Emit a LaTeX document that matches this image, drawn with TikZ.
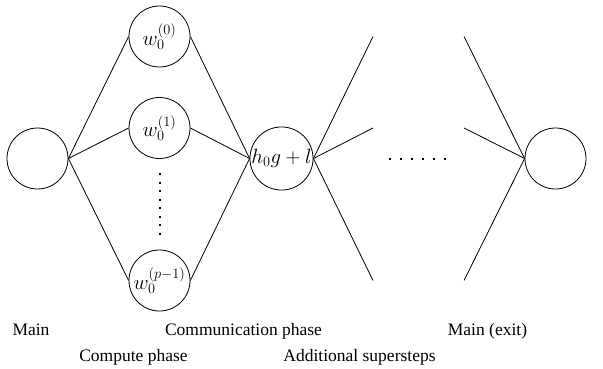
\documentclass[tikz,border=0pt]{standalone}
\usepackage{fontspec}
\setmainfont{Liberation Serif}
\begin{document}
\begin{tikzpicture}[x=1pt,y=-1pt,line width=0.8pt,
  state/.style={circle,draw,minimum size=61pt,inner sep=0pt,font=\fontsize{20}{24}\selectfont},
  caption/.style={anchor=base,inner sep=0pt,font=\rmfamily\fontsize{17.5}{21}\selectfont},
  hellip/.style={line width=2pt,dash pattern=on 2pt off 9pt},
  vellip/.style={line width=2pt,dash pattern=on 2pt off 6.5pt}]
\useasboundingbox (0,0) rectangle (603,369);

% supersteps: main, compute, communication, exit
\node[state] (main) at (37.5,158.5) {};
\node[state] (w0) at (159.5,36.5) {$w_0^{(0)}$};
\node[state] (w1) at (159.5,128) {$w_0^{(1)}$};
\node[state] (wp) at (159.5,280.5) {$w_0^{(p-1)}$};
\node[state] (comm) at (281.5,158.5) {$h_0g+l$};
\node[state] (exit) at (555.5,158.5) {};

% fork into the compute phase and join at communication
\foreach \w in {w0,w1,wp}{
  \draw (main.east) -- (\w.west);
  \draw (\w.east) -- (comm.west);
}

% further supersteps, left open
\coordinate (a0) at (373,36.5);
\coordinate (a1) at (373,128);
\coordinate (a2) at (373,280.5);
\coordinate (b0) at (464,36.5);
\coordinate (b1) at (464,128);
\coordinate (b2) at (464,280.5);
\foreach \c in {a0,a1,a2}{\draw (comm.east) -- (\c);}
\foreach \c in {b0,b1,b2}{\draw (\c) -- (exit.west);}

% elided workers and elided supersteps
\coordinate (vd1) at (159.5,173);
\coordinate (vd2) at (159.5,235);
\draw[vellip] (vd1) -- (vd2);
\coordinate (hd1) at (389,158.5);
\coordinate (hd2) at (446,158.5);
\draw[hellip] (hd1) -- (hd2);

% phase labels
\node[caption] (lmain) at (31,335) {Main};
\node[caption] (lcomm) at (243.5,335) {Communication phase};
\node[caption] (lexit) at (487.5,335) {Main (exit)};
\node[caption] (lcomp) at (133.5,361) {Compute phase};
\node[caption] (ladd) at (359.5,361) {Additional supersteps};
\end{tikzpicture}
\end{document}
